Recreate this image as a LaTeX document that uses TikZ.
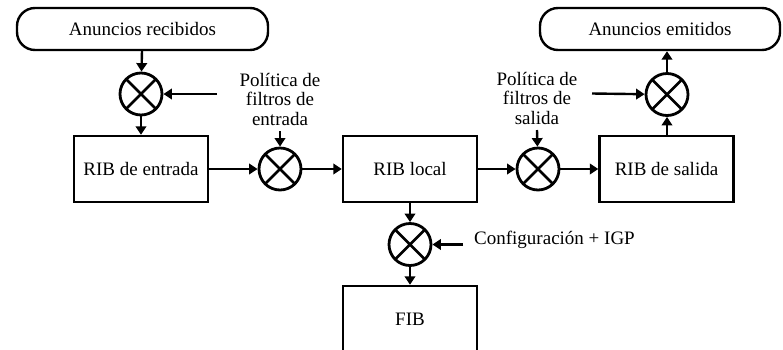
\documentclass[tikz,border=0pt]{standalone}
\usepackage{fontspec}
\setmainfont{Liberation Serif}
\usetikzlibrary{arrows.meta}
\begin{document}
\begin{tikzpicture}[x=1pt,y=-1pt,
  every node/.style={font=\fontsize{19}{19.5}\selectfont, inner sep=0pt},
  ribbox/.style={draw, line width=2.4pt, minimum width=134pt, minimum height=66pt},
  feed/.style={draw, line width=2.4pt, rounded corners=18pt, minimum height=42pt},
  mux/.style={circle, draw, line width=2.8pt, minimum size=42pt,
    path picture={\draw[line width=2.6pt]
      (path picture bounding box.north west) -- (path picture bounding box.south east)
      (path picture bounding box.north east) -- (path picture bounding box.south west);}},
  flow/.style={line width=2.4pt, -{Triangle[length=8.5pt,width=10.5pt]}},
  label/.style={align=center}
]
\useasboundingbox (0,0) rectangle (783,349);
\begin{scope}
\clip (0,0) rectangle (783,349);

% feeds in and out
\node[feed, minimum width=251pt] (recib) at (142.5,29) {Anuncios recibidos};
\node[feed, minimum width=240pt] (emit) at (660,29) {Anuncios emitidos};

% tables
\node[ribbox] (ribin) at (141,169) {RIB de entrada};
\node[ribbox] (riblocal) at (410,169) {RIB local};
\node[ribbox] (ribout) at (666.5,169) {RIB de salida};
\node[ribbox] (fib) at (410,319) {FIB};

% filters
\node[mux] (mA) at (141,94) {};
\node[mux] (mB) at (280,169) {};
\node[mux] (mC) at (538,169) {};
\node[mux] (mD) at (667,94.5) {};
\node[mux] (mE) at (410,244.5) {};

% policy labels
\node[label] (polin) at (280,99) {Política de\\filtros de\\entrada};
\node[label] (polout) at (537,98) {Política de\\filtros de\\salida};
\node[anchor=west] (config) at (474,240) {Configuración + IGP};

\coordinate (inA) at (217,94);
\coordinate (inB) at (280,131);
\coordinate (inC) at (537,130);
\coordinate (inD) at (592,93.5);
\coordinate (inE) at (463,244.5);

% main path
\draw[flow] (recib) -- (mA);
\draw[flow] (mA) -- (ribin);
\draw[flow] (ribin) -- (mB);
\draw[flow] (mB) -- (riblocal);
\draw[flow] (riblocal) -- (mC);
\draw[flow] (mC) -- (ribout);
\draw[flow] (ribout.north -| mD) -- (mD);
\draw[flow] (mD) -- (emit.south -| mD);
\draw[flow] (riblocal) -- (mE);
\draw[flow] (mE) -- (fib);

% policy inputs
\draw[flow] (inA) -- (mA);
\draw[flow] (inB) -- (mB);
\draw[flow] (inC) -- (mC);
\draw[flow] (inD) -- (mD);
\draw[flow] (inE) -- (mE);
\end{scope}
\end{tikzpicture}
\end{document}
